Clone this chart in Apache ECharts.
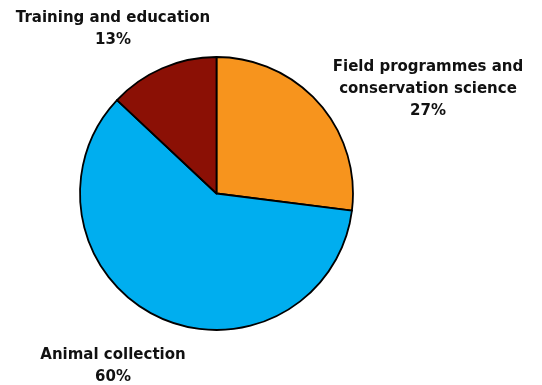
<!DOCTYPE html>
<html>
<head>
<meta charset="utf-8">
<script src="https://cdn.jsdelivr.net/npm/echarts@6/dist/echarts.min.js"></script>
<style>
  html, body { margin: 0; padding: 0; background: #fff; }
  #chart { width: 542px; height: 385px; }
</style>
</head>
<body>
<div id="chart"></div>
<script>
// Share of spending by activity (%)
const categories = [
  'Field programmes and\nconservation science',
  'Animal collection',
  'Training and education'
];
const shares = [27, 60, 13];
const sliceColors = ['#F7941D', '#00AEEF', '#8B1005'];

// Where each label block sits (centre x, top y)
const labelSpots = [
  { x: 428, y: 56 },
  { x: 113, y: 344 },
  { x: 113, y: 7 }
];

const chart = echarts.init(document.getElementById('chart'), null, { renderer: 'canvas' });

chart.setOption({
  animation: false,
  series: [{
    type: 'pie',
    center: [216.5, 193.5],
    radius: 136.5,
    startAngle: 90,
    clockwise: true,
    data: categories.map((name, i) => ({
      name: name,
      value: shares[i],
      itemStyle: { color: sliceColors[i] }
    })),
    itemStyle: { borderColor: '#000', borderWidth: 1.8 },
    label: {
      show: true,
      position: 'inside',
      overflow: 'none',
      formatter: '{b}\n{c}%',
      fontFamily: 'DejaVu Sans',
      fontWeight: 'bold',
      fontSize: 15,
      lineHeight: 22,
      color: '#111',
      align: 'center'
    },
    labelLine: { show: false },
    labelLayout: function (params) {
      const s = labelSpots[params.dataIndex];
      return { x: s.x, y: s.y, align: 'center', verticalAlign: 'top' };
    },
    emphasis: { disabled: true }
  }]
});
</script>
</body>
</html>
